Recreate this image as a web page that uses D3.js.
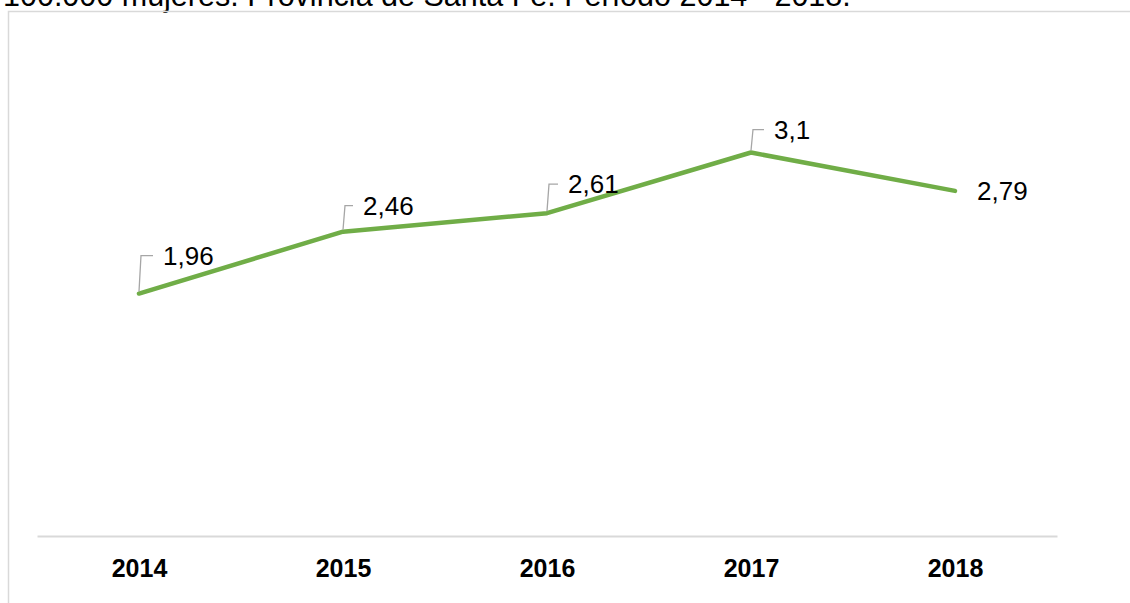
<!DOCTYPE html>
<html>
<head>
<meta charset="utf-8">
<script src="https://cdn.jsdelivr.net/npm/d3@7"></script>
<style>
  body { margin: 0; background: #fff; }
  svg { display: block; font-family: "Liberation Sans", Arial, sans-serif; }
</style>
</head>
<body>
<div id="chart"></div>
<script>
// data
const years = ['2014', '2015', '2016', '2017', '2018'];
const tasa = [1.96, 2.46, 2.61, 3.1, 2.79];
const etiquetas = ['1,96', '2,46', '2,61', '3,1', '2,79'];
const titulo = '100.000 mujeres. Provincia de Santa Fe. Período 2014 - 2018.';

// label placement (like excel leaves it), dx / dy from the point
const lblDx = [24, 20, 21, 23, 22];
const lblDy = [-29, -17, -20, -14, 9];
const leader = [true, true, true, true, false];

const W = 1130, H = 603;

var svg = d3.select('#chart').append('svg')
    .attr('width', W)
    .attr('height', H)

// title (only the last line shows, the rest is above the crop)
svg.append('text')
    .attr('x', 3)
    .attr('y', 6)
    .style('font-size', '30.5px')
    .attr('fill', '#000')
    .text(titulo)

// frame
svg.append('path')
    .attr('d', `M8.5,${H} V11.5 H${W}`)
    .attr('fill', 'none')
    .attr('stroke', '#d9d9d9')
    .attr('stroke-width', 1.5)

var x = d3.scalePoint()
    .domain(years)
    .range([37, 1057])
    .padding(0.5)

var y = d3.scaleLinear()
    .domain([0, 4])
    .range([536, 41.2])

// axis line + labels
var xAxis = svg.append('g')
    .attr('transform', 'translate(0,536)')
    .call(d3.axisBottom(x).tickSize(0).tickPadding(23))

xAxis.select('.domain')
    .attr('stroke', '#d9d9d9')
    .attr('stroke-width', 2)

xAxis.selectAll('text')
    .style('font-family', '"Liberation Sans", Arial, sans-serif')
    .style('font-size', '25px')
    .style('font-weight', 'bold')
    .attr('fill', '#000')

// the line
var line = d3.line()
    .x((d, i) => x(years[i]))
    .y((d) => y(d))

svg.append('path')
    .datum(tasa)
    .attr('d', line)
    .attr('fill', 'none')
    .attr('stroke', '#70ad47')
    .attr('stroke-width', 4.5)
    .attr('stroke-linejoin', 'round')
    .attr('stroke-linecap', 'round')

// leader lines
tasa.forEach((v, i) => {
    if (!leader[i]) return;
    let px = x(years[i]), py = y(v);
    let ty = py + lblDy[i] - 9;
    svg.append('path')
        .attr('d', `M${px},${py - 2} L${px + 2},${ty} H${px + lblDx[i] - 10}`)
        .attr('fill', 'none')
        .attr('stroke', '#a6a6a6')
        .attr('stroke-width', 1.3)
});

// value labels
svg.selectAll('.lbl')
    .data(tasa).enter()
    .append('text')
    .attr('class', 'lbl')
    .attr('x', (d, i) => x(years[i]) + lblDx[i])
    .attr('y', (d, i) => y(d) + lblDy[i])
    .style('font-size', '26px')
    .attr('fill', '#000')
    .text((d, i) => etiquetas[i])
</script>
</body>
</html>
